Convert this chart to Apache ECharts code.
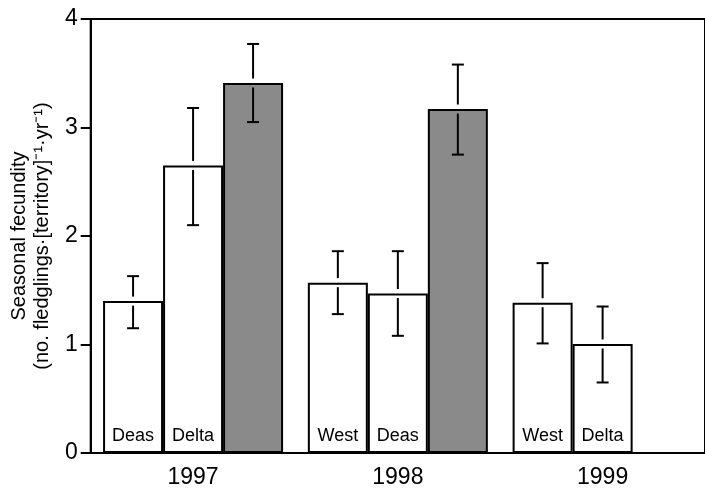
<!DOCTYPE html>
<html>
<head>
<meta charset="utf-8">
<script src="https://cdn.jsdelivr.net/npm/echarts@6/dist/echarts.min.js"></script>
<style>
html,body{margin:0;padding:0;background:#fff;}
#chart{width:705px;height:490px;}
</style>
</head>
<body>
<div id="chart"></div>
<script>
// ---- data ----
var years = ['1997', '1998', '1999'];
var yTicks = [0, 1, 2, 3, 4];
// first bar in each year group
var firstNames = ['Deas', 'West', 'West'];
var firstMean = [1.40, 1.57, 1.385];
var firstLow  = [1.15, 1.28, 1.01];
var firstHigh = [1.63, 1.86, 1.75];
// second bar in each year group
var secondNames = ['Delta', 'Deas', 'Delta'];
var secondMean = [2.65, 1.47, 1.005];
var secondLow  = [2.10, 1.08, 0.65];
var secondHigh = [3.18, 1.86, 1.35];
// third (shaded) bar
var thirdMean = [3.41, 3.17, null];
var thirdLow  = [3.05, 2.75, null];
var thirdHigh = [3.77, 3.58, null];

// ---- style ----
var FONT = '"Liberation Sans", Arial, Helvetica, sans-serif';
var BAR_W = 60;
var GAP = 4.5;
var CAP = 6;

function errData(mean, low, high) {
  return mean.map(function (m, i) {
    return m == null ? [i, null, null, null] : [i, m, low[i], high[i]];
  });
}

function errSeries(mean, low, high, slot) {
  return {
    type: 'custom',
    z: 10,
    silent: true,
    encode: { x: 0, y: [1, 2, 3] },
    data: errData(mean, low, high),
    renderItem: function (params, api) {
      var v = api.value(1);
      if (v == null || isNaN(v)) return null;
      var ci = api.value(0);
      var cv = api.coord([ci, v]);
      var x = cv[0] + slot * BAR_W;
      var yv = cv[1];
      var yh = api.coord([ci, api.value(3)])[1];
      var yl = api.coord([ci, api.value(2)])[1];
      var st = { stroke: '#000', lineWidth: 2 };
      return {
        type: 'group',
        children: [
          { type: 'line', shape: { x1: x, y1: yv - GAP, x2: x, y2: yh }, style: st },
          { type: 'line', shape: { x1: x - CAP, y1: yh, x2: x + CAP, y2: yh }, style: st },
          { type: 'line', shape: { x1: x, y1: yv + GAP, x2: x, y2: yl }, style: st },
          { type: 'line', shape: { x1: x - CAP, y1: yl, x2: x + CAP, y2: yl }, style: st }
        ]
      };
    }
  };
}

function barLabel(names) {
  return {
    show: true,
    position: 'insideBottom',
    distance: 8,
    color: '#000',
    fontFamily: FONT,
    fontSize: 18,
    formatter: function (p) { return names[p.dataIndex]; }
  };
}

var chart = echarts.init(document.getElementById('chart'), null, { renderer: 'canvas' });
chart.setOption({
  animation: false,
  backgroundColor: '#fff',
  grid: {
    left: 88, top: 19, width: 622, height: 434,
    show: true, borderColor: '#000', borderWidth: 2, backgroundColor: 'transparent'
  },
  xAxis: {
    type: 'category',
    data: years,
    axisLine: { lineStyle: { color: '#000', width: 2 } },
    axisTick: { alignWithLabel: true, length: 9, lineStyle: { color: '#000', width: 2 } },
    axisLabel: { color: '#000', fontFamily: FONT, fontSize: 23, margin: 13 },
    splitLine: { show: false }
  },
  yAxis: {
    type: 'value',
    min: yTicks[0], max: yTicks[yTicks.length - 1], interval: 1,
    name: 'Seasonal fecundity\n(no. fledglings\u00b7[territory]\u207b\u00b9\u00b7yr\u207b\u00b9)',
    nameLocation: 'middle',
    nameRotate: 90,
    nameGap: 31,
    nameTextStyle: { color: '#000', fontFamily: FONT, fontSize: 20, lineHeight: 23 },
    axisLine: { show: true, lineStyle: { color: '#000', width: 2 } },
    axisTick: { show: true, length: 10, lineStyle: { color: '#000', width: 2 } },
    axisLabel: { color: '#000', fontFamily: FONT, fontSize: 23, margin: 13 },
    splitLine: { show: false }
  },
  series: [
    {
      type: 'bar', barWidth: BAR_W, barGap: '0%',
      data: firstMean,
      itemStyle: { color: '#fff', borderColor: '#000', borderWidth: 2 },
      label: barLabel(firstNames)
    },
    {
      type: 'bar', barWidth: BAR_W, barGap: '0%',
      data: secondMean,
      itemStyle: { color: '#fff', borderColor: '#000', borderWidth: 2 },
      label: barLabel(secondNames)
    },
    {
      type: 'bar', barWidth: BAR_W, barGap: '0%',
      data: thirdMean,
      itemStyle: { color: '#8a8a8a', borderColor: '#000', borderWidth: 2 }
    },
    errSeries(firstMean, firstLow, firstHigh, -1),
    errSeries(secondMean, secondLow, secondHigh, 0),
    errSeries(thirdMean, thirdLow, thirdHigh, 1)
  ]
});
</script>
</body>
</html>
